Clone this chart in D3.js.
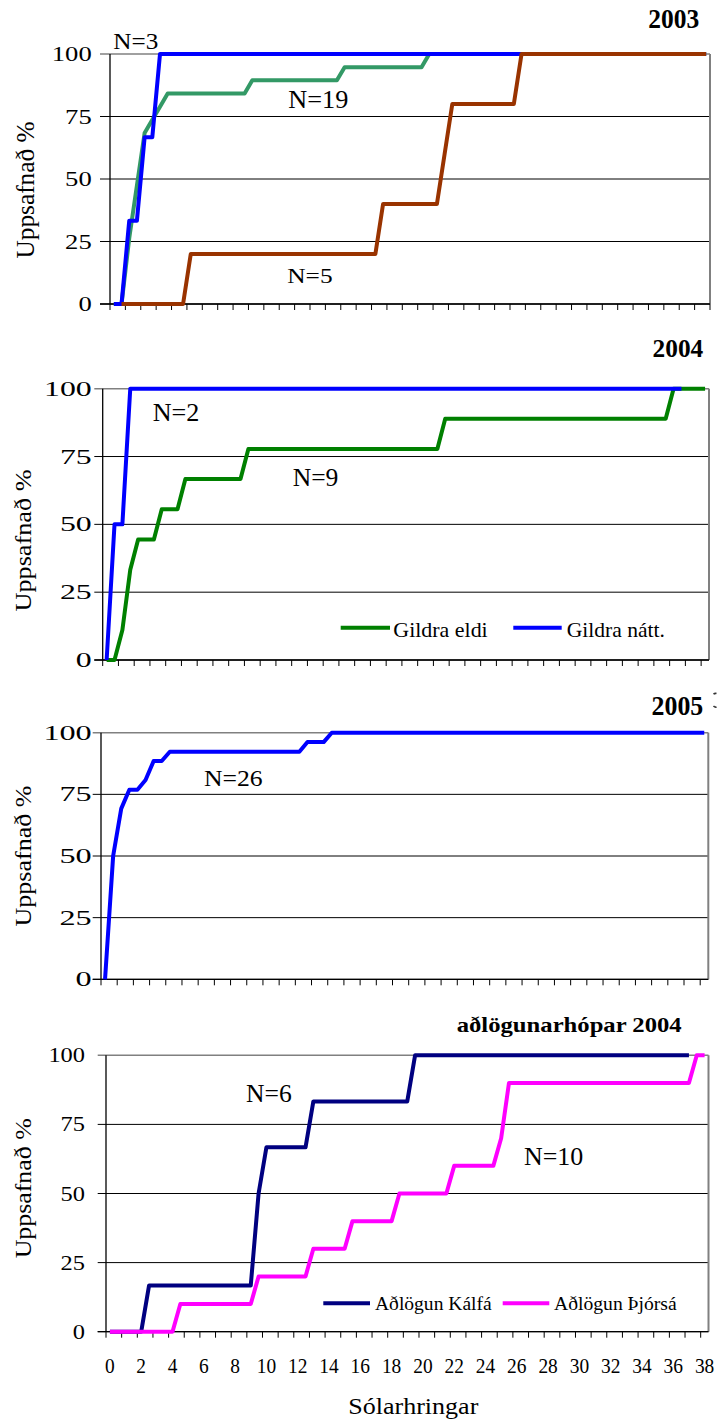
<!DOCTYPE html>
<html>
<head>
<meta charset="utf-8">
<script src="https://cdn.jsdelivr.net/npm/d3@7"></script>
<style>
  body { margin: 0; background: #fff; }
  svg { display: block; }
  text { font-family: "Liberation Serif", "Times New Roman", serif; fill: #000; }
</style>
</head>
<body>
<svg id="chart" width="717" height="1422"></svg>
<script>
// ---- data -------------------------------------------------------------
const yTickValues = [0, 25, 50, 75, 100];
const xTickLabels = [0, 2, 4, 6, 8, 10, 12, 14, 16, 18, 20, 22, 24, 26, 28, 30, 32, 34, 36, 38];

// 2003 (days, cumulative %)
const days2003Green = [0, 0.5, 1, 1.5, 2, 2.5, 3, 3.5, 8.5, 9, 14.5, 15, 20, 20.5, 38.5];
const vals2003Green = [0, 0, 26.3, 47.4, 68.4, 73.7, 78.9, 84.2, 84.2, 89.5, 89.5, 94.7, 94.7, 100, 100];
const days2003Blue = [0, 0.5, 1, 1.5, 2, 2.5, 3, 38.5];
const vals2003Blue = [0, 0, 33.3, 33.3, 66.7, 66.7, 100, 100];
const days2003Brown = [0.5, 4.5, 5, 17, 17.5, 21, 21.5, 22, 26, 26.5, 38.5];
const vals2003Brown = [0, 0, 20, 20, 40, 40, 60, 80, 80, 100, 100];

// 2004 traps
const days2004Eldi = [0, 0.5, 1, 1.5, 2, 3, 3.5, 4.5, 5, 8.5, 9, 21, 21.5, 35.5, 36, 38];
const vals2004Eldi = [0, 0, 11.1, 33.3, 44.4, 44.4, 55.6, 55.6, 66.7, 66.7, 77.8, 77.8, 88.9, 88.9, 100, 100];
const days2004Natt = [0, 0.5, 1, 1.5, 36.5];
const vals2004Natt = [0, 50, 50, 100, 100];

// 2005
const days2005 = [0, 0.5, 1, 1.5, 2, 2.5, 3, 3.5, 4, 12, 12.5, 13.5, 14, 37];
const vals2005 = [0, 50, 69.2, 76.9, 76.9, 80.8, 88.5, 88.5, 92.3, 92.3, 96.2, 96.2, 100, 100];

// acclimation groups 2004
const daysKalfa = [0, 2, 2.5, 9, 9.5, 10, 12.5, 13, 19, 19.5, 37];
const valsKalfa = [0, 0, 16.7, 16.7, 50, 66.7, 66.7, 83.3, 83.3, 100, 100];
const daysThjorsa = [0, 4, 4.5, 9, 9.5, 12.5, 13, 15, 15.5, 18, 18.5, 21.5, 22, 24.5, 25, 25.5, 37, 37.5, 38];
const valsThjorsa = [0, 0, 10, 10, 20, 20, 30, 30, 40, 40, 50, 50, 60, 60, 70, 90, 90, 100, 100];

const legend2004 = ["Gildra eldi", "Gildra nátt."];
const legendAcc = ["Aðlögun Kálfá", "Aðlögun Þjórsá"];
const yTitle = "Uppsafnað %";
const xTitle = "Sólarhringar";

// ---- helpers ----------------------------------------------------------
const svg = d3.select("#chart");
const zip = (ds, vs) => ds.map((d, i) => ({ day: d, val: vs[i] }));

// text with a fixed rendered width (glyphs are stretched to fit)
function label(g, str, x, y, o) {
  return g.append("text")
    .attr("x", o.anchor === "end" ? x - o.width : o.anchor === "middle" ? x - o.width / 2 : x)
    .attr("y", y)
    .attr("font-size", o.size)
    .attr("font-weight", o.bold ? "bold" : null)
    .attr("textLength", o.width)
    .attr("lengthAdjust", "spacingAndGlyphs")
    .text(str);
}

function panel(cfg) {
  const g = svg.append("g");
  const x = d3.scaleLinear().domain([-0.25, cfg.nCat / 2 - 0.25]).range([cfg.left, cfg.right]);
  const y = d3.scaleLinear().domain([0, 100]).range([cfg.bottom, cfg.top]);

  // horizontal grid + y tick marks
  g.selectAll("line.grid").data(yTickValues).join("line")
    .attr("x1", cfg.left - cfg.yTickLen).attr("x2", cfg.right)
    .attr("y1", d => y(d)).attr("y2", d => y(d))
    .attr("stroke", d => d === 100 ? "#808080" : "#000")
    .attr("stroke-width", d => d === 100 ? 1.5 : 1);

  // right border of plot area
  g.append("line").attr("x1", cfg.right).attr("x2", cfg.right)
    .attr("y1", y(100)).attr("y2", y(0)).attr("stroke", "#808080").attr("stroke-width", 2);

  // x axis ticks (category boundaries every whole day)
  const tickDays = d3.range(0, Math.floor(cfg.nCat / 2) + 1).map(k => k - 0.25);
  g.selectAll("line.xt").data(tickDays).join("line")
    .attr("x1", d => x(d)).attr("x2", d => x(d))
    .attr("y1", y(0)).attr("y2", y(0) + 6)
    .attr("stroke", "#000").attr("stroke-width", 1);

  // axis lines
  g.append("line").attr("x1", x(-0.25)).attr("x2", x(-0.25))
    .attr("y1", y(100)).attr("y2", y(0)).attr("stroke", "#000").attr("stroke-width", 1.3);
  g.append("line").attr("x1", cfg.left - cfg.yTickLen).attr("x2", cfg.right)
    .attr("y1", y(0)).attr("y2", y(0)).attr("stroke", "#000").attr("stroke-width", 1.3);

  // y tick labels
  yTickValues.forEach(v => {
    const s = String(v);
    label(g, s, cfg.yLabelRight, y(v) + 7, { size: 21, width: s.length * cfg.yCharW, anchor: "end" });
  });

  // y axis title
  const yt = g.append("g").attr("transform", `translate(${cfg.yTitleX},${cfg.yTitleY}) rotate(-90)`);
  label(yt, yTitle, 0, 0, { size: cfg.yTitleSize, width: cfg.yTitleLen, anchor: "middle" });

  // panel title
  label(g, cfg.title, cfg.titleRight, cfg.titleBase, { size: cfg.titleSize, width: cfg.titleWidth, anchor: "end", bold: true });

  // series
  const line = d3.line().x(d => x(d.day)).y(d => y(d.val));
  cfg.series.forEach(s => {
    g.append("path").datum(s.data)
      .attr("d", line)
      .attr("fill", "none")
      .attr("stroke", s.color)
      .attr("stroke-width", 4)
      .attr("stroke-linejoin", "round");
  });

  // sample-size annotations
  cfg.notes.forEach(n => label(g, n.text, n.x, n.y, { size: n.size, width: n.width }));

  return { g, x, y };
}

// ---- panels -----------------------------------------------------------
panel({
  left: 110, right: 710, top: 54, bottom: 304, nCat: 78, yTickLen: 10,
  yLabelRight: 91.7, yCharW: 13.3,
  yTitleX: 34, yTitleY: 190, yTitleSize: 25, yTitleLen: 137,
  title: "2003", titleRight: 699.3, titleBase: 28.3, titleSize: 27, titleWidth: 51,
  series: [
    { color: "#339966", data: zip(days2003Green, vals2003Green) },
    { color: "#0000FF", data: zip(days2003Blue, vals2003Blue) },
    { color: "#993300", data: zip(days2003Brown, vals2003Brown) }
  ],
  notes: [
    { text: "N=3", x: 113.3, y: 49.3, size: 24, width: 45 },
    { text: "N=19", x: 288.3, y: 108.3, size: 25, width: 60 },
    { text: "N=5", x: 287.3, y: 282.7, size: 22, width: 45.3 }
  ]
});

panel({
  left: 102.7, right: 709, top: 388.7, bottom: 660, nCat: 77, yTickLen: 8.4,
  yLabelRight: 91.7, yCharW: 15.9,
  yTitleX: 31, yTitleY: 540.5, yTitleSize: 24, yTitleLen: 142,
  title: "2004", titleRight: 703.3, titleBase: 356.7, titleSize: 25, titleWidth: 50.7,
  series: [
    { color: "#008000", data: zip(days2004Eldi, vals2004Eldi) },
    { color: "#0000FF", data: zip(days2004Natt, vals2004Natt) }
  ],
  notes: [
    { text: "N=2", x: 152.7, y: 420.7, size: 25, width: 46.7 },
    { text: "N=9", x: 292.7, y: 486, size: 25, width: 45.7 }
  ]
});

panel({
  left: 101, right: 708.3, top: 732.7, bottom: 979.3, nCat: 75, yTickLen: 8.3,
  yLabelRight: 91.7, yCharW: 16.1,
  yTitleX: 31, yTitleY: 856, yTitleSize: 24, yTitleLen: 141,
  title: "2005", titleRight: 703.3, titleBase: 715, titleSize: 27, titleWidth: 51.7,
  series: [
    { color: "#0000FF", data: zip(days2005, vals2005) }
  ],
  notes: [
    { text: "N=26", x: 204, y: 786, size: 24, width: 58.7 }
  ]
});

const p4 = panel({
  left: 106, right: 708.5, top: 1055.3, bottom: 1331.7, nCat: 77, yTickLen: 8.3,
  yLabelRight: 85, yCharW: 12.2,
  yTitleX: 31, yTitleY: 1188.3, yTitleSize: 24, yTitleLen: 140,
  title: "aðlögunarhópar 2004", titleRight: 681.7, titleBase: 1031.7, titleSize: 22, titleWidth: 225,
  series: [
    { color: "#000080", data: zip(daysKalfa, valsKalfa) },
    { color: "#FF00FF", data: zip(daysThjorsa, valsThjorsa) }
  ],
  notes: [
    { text: "N=6", x: 246, y: 1101.7, size: 25, width: 45.7 },
    { text: "N=10", x: 524, y: 1165, size: 26, width: 59.3 }
  ]
});

// small clipped mark at the right edge beside the 2005 title
svg.append("path").attr("d", "M713.5,694 q1.5,-1 3,-0.5 M713.5,706 q1.5,1.5 3,1")
  .attr("fill", "none").attr("stroke", "#333").attr("stroke-width", 1.6);

// x tick labels on the bottom panel
xTickLabels.forEach(v => {
  const s = String(v);
  label(p4.g, s, p4.x(v), 1372.7, { size: 21, width: s.length * 9.7, anchor: "middle" });
});
label(svg, xTitle, 348.3, 1414, { size: 24, width: 130 });

// legends
function legend(entries) {
  entries.forEach(e => {
    svg.append("line").attr("x1", e.x1).attr("x2", e.x2).attr("y1", e.ly).attr("y2", e.ly)
      .attr("stroke", e.color).attr("stroke-width", 4);
    label(svg, e.text, e.tx, e.ty, { size: e.size, width: e.width });
  });
}
legend([
  { text: legend2004[0], color: "#008000", x1: 340.7, x2: 390, ly: 627.7, tx: 393.3, ty: 636.7, size: 21, width: 94.4 },
  { text: legend2004[1], color: "#0000FF", x1: 513.3, x2: 561.7, ly: 627.7, tx: 566.7, ty: 636.7, size: 21, width: 98.3 }
]);
legend([
  { text: legendAcc[0], color: "#000080", x1: 323.3, x2: 370, ly: 1303.3, tx: 375, ty: 1310, size: 18, width: 116.7 },
  { text: legendAcc[1], color: "#FF00FF", x1: 502.7, x2: 549.3, ly: 1303.3, tx: 554, ty: 1310, size: 18, width: 122.7 }
]);
</script>
</body>
</html>
